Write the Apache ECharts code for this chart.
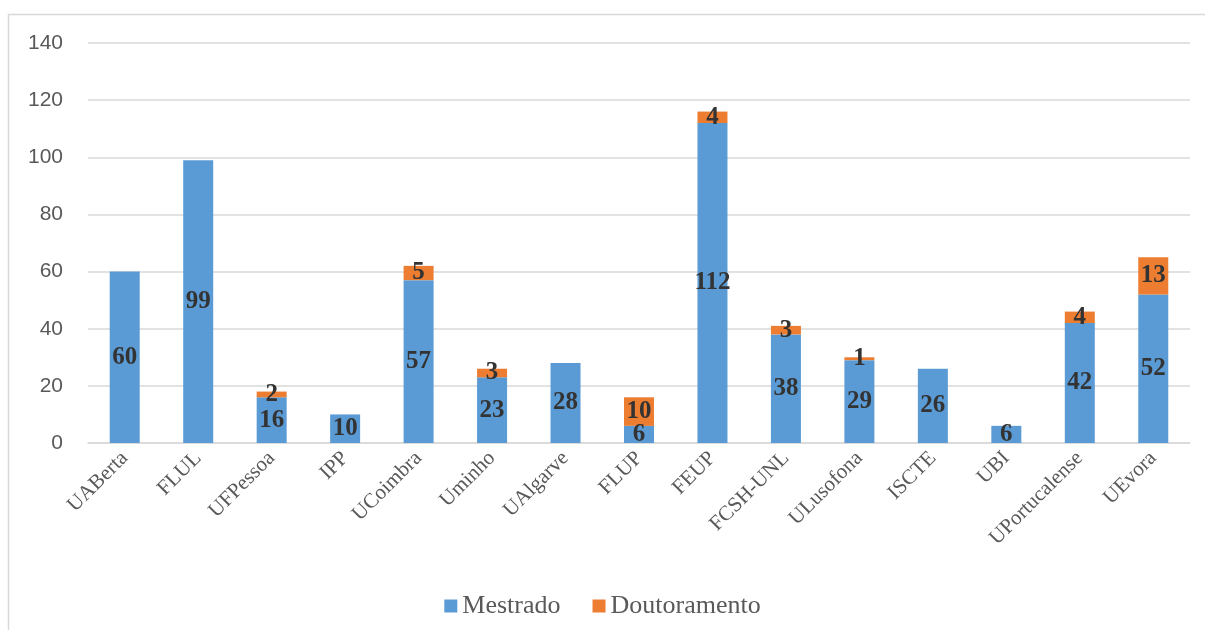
<!DOCTYPE html>
<html>
<head>
<meta charset="utf-8">
<script src="https://cdn.jsdelivr.net/npm/echarts@6/dist/echarts.min.js"></script>
<style>html,body{margin:0;padding:0;background:#fff}#c{width:1205px;height:630px}</style>
</head>
<body>
<div id="c"></div>
<script>
const categories = ['UABerta','FLUL','UFPessoa','IPP','UCoimbra','Uminho','UAlgarve','FLUP','FEUP','FCSH-UNL','ULusofona','ISCTE','UBI','UPortucalense','UEvora'];
const mestrado = [60, 99, 16, 10, 57, 23, 28, 6, 112, 38, 29, 26, 6, 42, 52];
const doutoramento = [0, 0, 2, 0, 5, 3, 0, 10, 4, 3, 1, 0, 0, 4, 13];
const yTicks = {min: 0, max: 140, interval: 20};

const labelStyle = {
  show: true, position: 'inside',
  fontFamily: 'Liberation Serif', fontWeight: 'bold', fontSize: 25, color: '#333333',
  formatter: p => p.value ? String(p.value) : ''
};

const chart = echarts.init(document.getElementById('c'));
chart.setOption({
  animation: false,
  graphic: [{type: 'rect', shape: {x: 8.5, y: 14.5, width: 1210, height: 630}, style: {fill: 'none', stroke: '#d9d9d9', lineWidth: 1.5}, silent: true}],
  grid: {left: 88, right: 15, top: 43, bottom: 187},
  legend: {
    bottom: 6, left: 'center', itemWidth: 13, itemHeight: 13, itemGap: 32, icon: 'rect',
    textStyle: {fontFamily: 'Liberation Serif', fontSize: 26, color: '#595959'},
    data: ['Mestrado', 'Doutoramento']
  },
  xAxis: {
    type: 'category', data: categories,
    axisLine: {lineStyle: {color: '#d9d9d9', width: 1.5}},
    axisTick: {show: false},
    axisLabel: {rotate: 45, interval: 0, margin: 12, fontFamily: 'Liberation Serif', fontSize: 21, color: '#595959'}
  },
  yAxis: {
    type: 'value', min: yTicks.min, max: yTicks.max, interval: yTicks.interval,
    axisLine: {show: false}, axisTick: {show: false},
    axisLabel: {margin: 25, fontFamily: 'Liberation Sans', fontSize: 21, color: '#595959'},
    splitLine: {lineStyle: {color: '#d9d9d9', width: 1.5}}
  },
  series: [
    {name: 'Mestrado', type: 'bar', stack: 'a', data: mestrado, barWidth: 30, itemStyle: {color: '#5B9BD5'}, label: labelStyle},
    {name: 'Doutoramento', type: 'bar', stack: 'a', data: doutoramento, barWidth: 30, itemStyle: {color: '#ED7D31'}, label: labelStyle}
  ]
});
</script>
</body>
</html>
